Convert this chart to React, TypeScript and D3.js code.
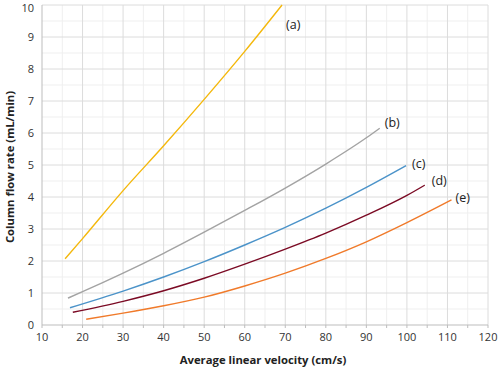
import React from "react";
import * as d3 from "d3";

const xTicks = [10, 20, 30, 40, 50, 60, 70, 80, 90, 100, 110, 120];
const yTicks = [0, 1, 2, 3, 4, 5, 6, 7, 8, 9, 10];

const seriesA: [number, number][] = [[15.7, 2.07], [20, 2.7], [30, 4.2], [40, 5.6], [50, 7.05], [60, 8.55], [69.2, 10]];
const seriesB: [number, number][] = [[16.4, 0.84], [20, 1.04], [30, 1.62], [40, 2.24], [50, 2.9], [60, 3.58], [70, 4.28], [80, 5.03], [90, 5.85], [93.3, 6.15]];
const seriesC: [number, number][] = [[16.9, 0.54], [30, 1.06], [40, 1.5], [50, 1.98], [60, 2.5], [70, 3.05], [80, 3.65], [90, 4.3], [99.8, 4.98]];
const seriesD: [number, number][] = [[17.6, 0.4], [30, 0.74], [40, 1.07], [50, 1.46], [60, 1.9], [70, 2.37], [80, 2.87], [90, 3.43], [100, 4.05], [104.4, 4.37]];
const seriesE: [number, number][] = [[20.9, 0.18], [30, 0.37], [40, 0.6], [50, 0.87], [60, 1.22], [70, 1.62], [80, 2.08], [90, 2.6], [100, 3.2], [111, 3.91]];

const seriesNames = ["(a)", "(b)", "(c)", "(d)", "(e)"];
const seriesColors = ["#f4b80c", "#a3a3a3", "#4b93c9", "#7b0a24", "#f07a2a"];
const allSeries = [seriesA, seriesB, seriesC, seriesD, seriesE];
const labelOffsets: [number, number][] = [[4, 24], [5, -1], [6, 2], [7, 0], [4, 2]];

export default function App() {
  const width = 500, height = 370;
  const x = d3.scaleLinear().domain([10, 120]).range([42, 488]);
  const y = d3.scaleLinear().domain([0, 10]).range([325, 5]);
  const line = d3.line<[number, number]>().x(d => x(d[0])).y(d => y(d[1])).curve(d3.curveMonotoneX);
  const minorX = d3.range(15, 120, 10);
  const minorY = d3.range(0.5, 10, 1);
  const font = "'Open Sans', sans-serif";
  return (
    <svg width={width} height={height} style={{ position: "absolute", left: 0, top: 0 }} fontFamily={font}>
      <rect width={width} height={height} fill="#fff" />
      {minorX.map(v => (
        <line key={"mx" + v} x1={x(v)} x2={x(v)} y1={y(10)} y2={y(0)} stroke="#efefef" strokeWidth={1} />
      ))}
      {minorY.map(v => (
        <line key={"my" + v} x1={x(10)} x2={x(120)} y1={y(v)} y2={y(v)} stroke="#efefef" strokeWidth={1} />
      ))}
      {xTicks.slice(1).map(v => (
        <line key={"gx" + v} x1={x(v)} x2={x(v)} y1={y(10)} y2={y(0)} stroke="#dcdcdc" strokeWidth={1} />
      ))}
      {yTicks.slice(1).map(v => (
        <line key={"gy" + v} x1={x(10)} x2={x(120)} y1={y(v)} y2={y(v)} stroke="#dcdcdc" strokeWidth={1} />
      ))}
      <line x1={x(10)} x2={x(10)} y1={y(10)} y2={y(0)} stroke="#bdbdbd" />
      <line x1={x(10)} x2={x(120)} y1={y(0)} y2={y(0)} stroke="#bdbdbd" />
      {d3.range(10, 121, 5).map(v => (
        <line key={"tk" + v} x1={x(v)} x2={x(v)} y1={y(0)} y2={y(0) + 3} stroke="#bdbdbd" />
      ))}
      {xTicks.map(v => (
        <text key={"xt" + v} x={x(v)} y={y(0) + 16} textAnchor="middle" fontSize={11} fill="#333">{v}</text>
      ))}
      {yTicks.map(v => (
        <text key={"yt" + v} x={x(10) - 8} y={y(v) + (v === 10 ? 7 : 4)} textAnchor="end" fontSize={11} fill="#333">{v}</text>
      ))}
      {allSeries.map((s, i) => (
        <path key={"s" + i} d={line(s) || ""} fill="none" stroke={seriesColors[i]} strokeWidth={1.4} />
      ))}
      {allSeries.map((s, i) => {
        const last = s[s.length - 1];
        return (
          <text key={"l" + i} x={x(last[0]) + labelOffsets[i][0]} y={y(last[1]) + labelOffsets[i][1]} fontSize={12.5} fill="#222">{seriesNames[i]}</text>
        );
      })}
      <text x={263} y={364} textAnchor="middle" fontSize={11.3} fontWeight="bold" fill="#222">Average linear velocity (cm/s)</text>
      <text transform={`translate(14,${y(5) + 2}) rotate(-90)`} textAnchor="middle" fontSize={11.3} fontWeight="bold" fill="#222">Column flow rate (mL/min)</text>
    </svg>
  );
}
